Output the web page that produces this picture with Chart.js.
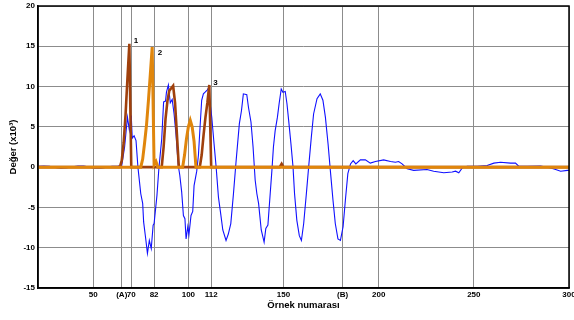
<!DOCTYPE html>
<html lang="tr">
<head>
<meta charset="UTF-8">
<title>Değer - Örnek numarası</title>
<script src="https://cdn.jsdelivr.net/npm/chart.js"></script>
<style>
  body { margin: 0; background: #fff; }
  #wrap { width: 574px; height: 320px; }
</style>
</head>
<body>
<div id="wrap"><canvas id="chart" width="574" height="320"></canvas></div>
<script>
// tick positions on the x axis (65 and 181 are shown as (A) and (B))
const xTicks = [50, 65, 70, 82, 100, 112, 150, 181, 200, 250, 300];
const xTickNames = { 65: '(A)', 181: '(B)' };

// blue signal
const blueX = [21, 24, 27, 30, 33, 36, 39, 42, 45, 48, 51, 54, 57, 60, 63, 65,
  66.5, 68, 69, 70, 70.5, 71.5, 72.5, 73.5, 75, 76, 76.5, 77.5, 78.5, 79.5, 80.5, 81.5, 82, 83.5, 84.5,
  86, 87, 88, 88.5, 89.5, 90.5, 91.5, 92.5, 93.5, 94.7, 95.5, 96.5, 97.4, 98.2, 98.8, 99.7, 100.3,
  101.4, 102.3, 103, 104.4, 105.3, 106.1, 107, 107.9, 108.8, 110, 110.5, 112.3, 113.5, 114.6, 115.8,
  117, 118.1, 119.8, 121, 122.3, 123.7, 125.1, 126.8, 127.9, 128.9, 130.7, 131.6, 132.9, 134, 135.1,
  136, 136.9, 138.3, 139.8, 140.7, 141.8, 143, 143.9, 144.7, 145.6, 146.8, 147.7, 148.8, 149.7, 150.9,
  151.8, 152.7, 153.9, 155, 155.8, 157, 158.3, 159.4, 160.6, 162, 163.2, 164.6, 165.8, 167.6, 169.3,
  170.7, 172, 173.4, 174.6, 176, 177.2, 178.6, 179.9, 181.3, 182.5, 183.8, 185.2, 186.6, 188, 190.4,
  193, 195.6, 198.3, 202.6, 206.2, 208.8, 210.5, 212.3, 215, 218.4, 225.4, 228.9, 234.2, 238.6, 240.4,
  242.1, 243.9, 246.5, 251.8, 257, 260.5, 264, 269.3, 271.9, 273.7, 278.1, 285.1, 290.4, 293, 295.6,
  299.2, 300];
const blueY = [0.1, 0.15, 0.1, -0.05, -0.15, -0.1, 0.05, 0.15, 0.15, 0, -0.15, -0.15, 0, 0.1, 0.15, 0.2,
  2.5, 6.2, 4.6, 6.4, 3.6, 3.9, 3.3, 0, -3.3, -4.5, -6.8, -8.7, -10.7, -9.1, -10.1, -7.2, -7.0, -3.5, -0.2,
  3.5, 8.1, 8.2, 9.3, 10.2, 8.0, 8.4, 6.6, 4.1, 0.2, -1.0, -3.1, -6.0, -6.4, -8.9, -7.4, -8.4,
  -6.0, -5.5, -2.3, -0.5, 1.5, 4.8, 8.3, 9.1, 9.3, 9.6, 9.8, 6.2, 2.9, 0, -3.7,
  -5.8, -7.8, -9.1, -8.3, -7.0, -3.3, 0.8, 5.4, 7.0, 9.1, 9.0, 7.4, 5.6, 2.5, -1.6,
  -3.3, -4.5, -7.8, -9.3, -7.6, -7.2, -3.3, -0.4, 2.5, 4.5, 6.2, 7.9, 9.7, 9.3, 9.4,
  7.9, 5.8, 2.9, 0, -3.3, -6.6, -8.5, -9.1, -7.0, -3.3, 0, 3.7, 6.6, 8.5, 9.1,
  8.3, 6.2, 2.9, -0.4, -4.1, -7.0, -8.9, -9.1, -7.4, -4.1, -0.8, 0.4, 0.8, 0.4, 0.9,
  0.9, 0.5, 0.7, 0.9, 0.7, 0.6, 0.7, 0.4, -0.2, -0.4, -0.3, -0.5, -0.7, -0.6, -0.5,
  -0.7, -0.1, 0.1, 0.1, 0.2, 0.5, 0.6, 0.5, 0.5, 0.1, 0.1, 0.15, -0.1, -0.3, -0.5,
  -0.4, -0.4];

// dark brown peaks (1 and 3)
const brownX = [21, 64, 65, 66, 67, 68, 69, 70, 86, 87, 88, 89, 90, 91, 92, 93, 94, 95,
  106, 107, 108, 109, 110, 111, 112, 148, 149, 150, 300];
const brownY = [0, 0, 0.8, 3, 6.5, 11, 15.3, 0, 0, 2.5, 6, 8.2, 9.5, 9.8, 10.1, 8, 4, 0,
  0, 1.5, 4, 6.2, 8, 10.2, 0, 0, 0.4, 0, 0];

// orange peaks (2) and the zero line
const orangeX = [21, 75, 76, 77, 78, 79, 80, 81, 82, 83, 84, 97, 98, 99, 100, 101, 102, 103, 104, 300];
const orangeY = [0, 0, 1, 3, 5.2, 8.2, 11.5, 14.9, 0.3, 0.7, 0, 0, 1.5, 3.5, 5, 5.8, 5, 3.2, 0, 0];

// peak numbers
const peakNames = ['1', '2', '3'];
const peakX = [72.5, 85.1, 114.2];
const peakY = [15.7, 14.2, 10.5];

function toPoints(xs, ys) {
  return xs.map((x, i) => ({ x: x, y: ys[i] }));
}

const framePlugin = {
  id: 'frame',
  afterDatasetsDraw(chart) {
    const { ctx, chartArea: a, scales } = chart;
    ctx.save();
    ctx.fillStyle = '#000';
    ctx.font = 'bold 8px "Liberation Sans", Arial, sans-serif';
    ctx.textAlign = 'center';
    ctx.textBaseline = 'middle';
    peakNames.forEach((t, i) => {
      ctx.fillText(t, scales.x.getPixelForValue(peakX[i]), scales.y.getPixelForValue(peakY[i]));
    });
    ctx.strokeStyle = '#000';
    ctx.lineWidth = 1.5;
    ctx.strokeRect(a.left, a.top, a.right - a.left, a.bottom - a.top);
    ctx.restore();
  }
};

const tickFont = { family: '"Liberation Sans", Arial, sans-serif', size: 8, weight: 'bold' };
const titleFont = { family: '"Liberation Sans", Arial, sans-serif', size: 9.5, weight: 'bold' };

new Chart(document.getElementById('chart'), {
  type: 'line',
  data: {
    datasets: [
      { data: toPoints(orangeX, orangeY), borderColor: '#e0860c', borderWidth: 3 },
      { data: toPoints(brownX, brownY), borderColor: '#a0400c', borderWidth: 2.6 },
      { data: toPoints(blueX, blueY), borderColor: '#1010ff', borderWidth: 1.1 }
    ]
  },
  options: {
    responsive: false,
    devicePixelRatio: 1,
    animation: false,
    layout: { padding: { top: 6, right: 5, left: 0, bottom: 0 } },
    elements: {
      point: { radius: 0 },
      line: { tension: 0, borderJoinStyle: 'miter' }
    },
    plugins: { legend: { display: false }, tooltip: { enabled: false } },
    scales: {
      x: {
        type: 'linear',
        min: 21,
        max: 300,
        afterBuildTicks: s => { s.ticks = xTicks.map(v => ({ value: v })); },
        afterFit: s => { s.height = 32; s.paddingLeft = 0; s.paddingRight = 0; },
        ticks: {
          autoSkip: false,
          maxRotation: 0,
          padding: 2,
          color: '#000',
          font: tickFont,
          callback: v => xTickNames[v] || String(v)
        },
        grid: { color: '#8c8c8c', lineWidth: 1, drawTicks: false },
        border: { color: '#000', width: 1.5 },
        title: {
          display: true,
          text: 'Örnek numarası',
          color: '#000',
          font: titleFont,
          padding: { top: 0, bottom: 9 }
        }
      },
      y: {
        min: -15,
        max: 20,
        afterFit: s => { s.width = 38; s.paddingTop = 0; s.paddingBottom = 0; },
        ticks: { stepSize: 5, padding: 3, color: '#000', font: tickFont },
        grid: { color: '#8c8c8c', lineWidth: 1, drawTicks: false },
        border: { color: '#000', width: 1.5 },
        title: {
          display: true,
          text: 'Değer (x10³)',
          color: '#000',
          font: titleFont,
          padding: { top: 8, bottom: 0 }
        }
      }
    }
  },
  plugins: [framePlugin]
});
</script>
</body>
</html>
